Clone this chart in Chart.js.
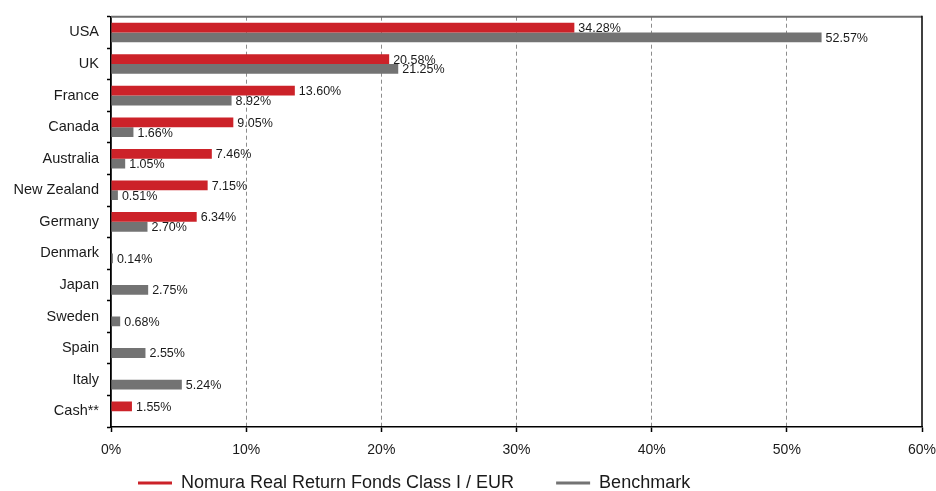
<!DOCTYPE html>
<html>
<head>
<meta charset="utf-8">
<script src="https://cdn.jsdelivr.net/npm/chart.js@4"></script>
<style>
  html, body { margin: 0; padding: 0; background: #fff; }
  #wrap { width: 936px; height: 491px; }
</style>
</head>
<body>
<div id="wrap"><canvas id="chart"></canvas></div>
<script>
const countries = ["USA", "UK", "France", "Canada", "Australia", "New Zealand", "Germany",
                   "Denmark", "Japan", "Sweden", "Spain", "Italy", "Cash**"];
const fund = [34.28, 20.58, 13.60, 9.05, 7.46, 7.15, 6.34, null, null, null, null, null, 1.55];
const benchmark = [52.57, 21.25, 8.92, 1.66, 1.05, 0.51, 2.70, 0.14, 2.75, 0.68, 2.55, 5.24, null];
const xTicks = [0, 10, 20, 30, 40, 50, 60];

const RED = "#cc2229";
const GREY = "#737373";

Chart.defaults.font.family = '"Liberation Sans", Arial, sans-serif';
Chart.defaults.color = "#1a1a1a";

// value labels at the end of each bar
const valueLabels = {
    id: "valueLabels",
    afterDatasetsDraw(chart) {
        const ctx = chart.ctx;
        ctx.save();
        ctx.font = '12.5px "Liberation Sans", Arial, sans-serif';
        ctx.fillStyle = "#1a1a1a";
        ctx.textBaseline = "middle";
        ctx.textAlign = "left";
        chart.data.datasets.forEach((ds, i) => {
            chart.getDatasetMeta(i).data.forEach((bar, j) => {
                const v = ds.data[j];
                if (v === null || v === undefined) return;
                ctx.fillText(v.toFixed(2) + "%", bar.x + 4, bar.y + 1);
            });
        });
        ctx.restore();
    }
};

// top and right frame lines
const frame = {
    id: "frame",
    afterDraw(chart) {
        const {ctx, chartArea: a} = chart;
        ctx.save();
        ctx.lineWidth = 2;
        ctx.strokeStyle = "#6e6e6e";
        ctx.beginPath();
        ctx.moveTo(a.left, a.top);
        ctx.lineTo(a.right, a.top);
        ctx.stroke();
        ctx.lineWidth = 1.5;
        ctx.strokeStyle = "#000";
        ctx.beginPath();
        ctx.moveTo(a.right, a.top - 1);
        ctx.lineTo(a.right, a.bottom);
        ctx.stroke();
        ctx.restore();
    }
};

// move legend to where the reference has it
const legendShift = {
    id: "legendShift",
    afterLayout(chart) {
        chart.legend.left = 96;
        chart.legend.top = 432;
    }
};

new Chart("chart", {
    type: "bar",
    data: {
        labels: countries,
        datasets: [{
            label: "Nomura Real Return Fonds Class I / EUR",
            data: fund,
            backgroundColor: RED,
            categoryPercentage: 0.62,
            barPercentage: 1
        }, {
            label: "Benchmark",
            data: benchmark,
            backgroundColor: GREY,
            categoryPercentage: 0.62,
            barPercentage: 1
        }]
    },
    options: {
        indexAxis: "y",
        responsive: true,
        maintainAspectRatio: false,
        animation: false,
        layout: {
            padding: {top: 16, right: 14, left: 13, bottom: 0}
        },
        scales: {
            x: {
                min: 0,
                max: 60,
                afterBuildTicks: (scale) => { scale.ticks = xTicks.map(v => ({value: v})); },
                afterFit: (scale) => { scale.height = 32; scale.paddingRight = 14; scale.paddingLeft = 0; },
                ticks: {
                    callback: (v) => v + "%",
                    font: {size: 14},
                    padding: 10,
                    maxRotation: 0
                },
                grid: {
                    color: (c) => (c.tick && (c.tick.value === 0 || c.tick.value === 60)) ? "rgba(0,0,0,0)" : "#8c8c8c",
                    lineWidth: 1,
                    tickColor: "#000",
                    tickLength: 5,
                    tickWidth: 1.5,
                    tickBorderDash: []
                },
                border: {display: true, color: "#000", width: 1.5, dash: [4, 3]}
            },
            y: {
                afterFit: (scale) => { scale.width = 98; },
                ticks: {
                    font: {size: 14.5},
                    padding: 8
                },
                grid: {
                    drawOnChartArea: false,
                    tickColor: "#000",
                    tickLength: 4,
                    tickWidth: 1.5
                },
                border: {display: true, color: "#000", width: 1.8}
            }
        },
        plugins: {
            legend: {
                position: "bottom",
                align: "start",
                maxHeight: 32,
                labels: {
                    usePointStyle: true,
                    pointStyleWidth: 34,
                    padding: 42,
                    color: "#1a1a1a",
                    font: {size: 18},
                    generateLabels: (chart) => chart.data.datasets.map((ds, i) => ({
                        text: ds.label,
                        fillStyle: ds.backgroundColor,
                        strokeStyle: ds.backgroundColor,
                        lineWidth: 3,
                        pointStyle: "line",
                        hidden: false,
                        datasetIndex: i,
                        fontColor: "#1a1a1a"
                    }))
                }
            },
            tooltip: {enabled: false}
        }
    },
    plugins: [valueLabels, frame, legendShift]
});
</script>
</body>
</html>
